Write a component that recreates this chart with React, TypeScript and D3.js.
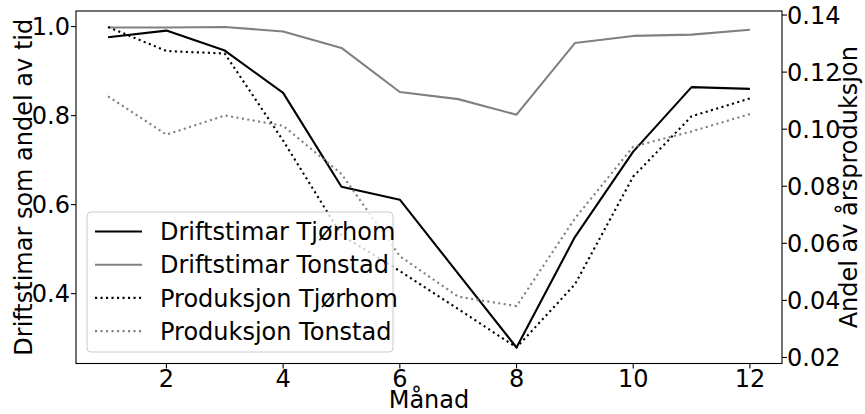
import React from "react";
import * as d3 from "d3";

const W = 865;
const H = 414;
const MARGIN = { top: 11, right: 83, bottom: 50.5, left: 76 };
const FONT = "'DejaVu Sans', 'Liberation Sans', sans-serif";
const FS = 24;

const months = [1, 2, 3, 4, 5, 6, 7, 8, 9, 10, 11, 12];
// share of time in operation (left axis)
const driftTjorhom = [0.976, 0.991, 0.946, 0.851, 0.64, 0.611, 0.445, 0.279, 0.527, 0.719, 0.864, 0.86];
const driftTonstad = [0.998, 0.998, 0.999, 0.989, 0.952, 0.853, 0.837, 0.802, 0.963, 0.979, 0.982, 0.993];
// share of yearly production (right axis)
const prodTjorhom = [0.1358, 0.1274, 0.1265, 0.096, 0.0629, 0.0503, 0.037, 0.0235, 0.0456, 0.0834, 0.1045, 0.1108];
const prodTonstad = [0.1115, 0.0981, 0.1048, 0.1012, 0.0843, 0.0555, 0.0413, 0.038, 0.0687, 0.0939, 0.0992, 0.1053];

const xTicks = [2, 4, 6, 8, 10, 12];
const leftTicks = [0.4, 0.6, 0.8, 1.0];
const rightTicks = [0.02, 0.04, 0.06, 0.08, 0.1, 0.12, 0.14];

const legendLabels = ["Driftstimar Tjørhom", "Driftstimar Tonstad", "Produksjon Tjørhom", "Produksjon Tonstad"];

// matplotlib style 5% padding
const padded = (vals: number[]) => {
  const [lo, hi] = d3.extent(vals) as [number, number];
  const m = (hi - lo) * 0.05;
  return [lo - m, hi + m];
};

export default function App() {
  const bw = W - MARGIN.left - MARGIN.right;
  const bh = H - MARGIN.top - MARGIN.bottom;

  const x = d3.scaleLinear().domain(padded(months)).range([0, bw]);
  const yL = d3.scaleLinear().domain(padded([...driftTjorhom, ...driftTonstad])).range([bh, 0]);
  const yR = d3.scaleLinear().domain(padded([...prodTjorhom, ...prodTonstad])).range([bh, 0]);

  const lineL = d3.line<number>().x((_, i) => x(months[i])).y((d) => yL(d));
  const lineR = d3.line<number>().x((_, i) => x(months[i])).y((d) => yR(d));

  const series = [
    { data: driftTjorhom, gen: lineL, color: "#000000", dash: undefined },
    { data: driftTonstad, gen: lineL, color: "#808080", dash: undefined },
    { data: prodTjorhom, gen: lineR, color: "#000000", dash: "2.1,3.4" },
    { data: prodTonstad, gen: lineR, color: "#808080", dash: "2.1,3.4" },
  ];

  const legend = { x: 11, y: 201, w: 306, h: 140, row: 33.2 };

  return (
    <svg width={W} height={H} style={{ position: "absolute", left: 0, top: 0 }} fontFamily={FONT}>
      <rect width={W} height={H} fill="#fff" />
      <g transform={`translate(${MARGIN.left},${MARGIN.top})`}>
        {series.map((s, i) => (
          <path
            key={i}
            d={s.gen(s.data) || ""}
            fill="none"
            stroke={s.color}
            strokeWidth={2.1}
            strokeDasharray={s.dash}
            strokeLinejoin="round"
          />
        ))}

        {/* spines */}
        <rect width={bw} height={bh} fill="none" stroke="#000" strokeWidth={1.1} />

        {/* x axis */}
        {xTicks.map((t) => (
          <g key={t} transform={`translate(${x(t)},${bh})`}>
            <line y2={5} stroke="#000" strokeWidth={1.1} />
            <text y={23} textAnchor="middle" fontSize={FS}>{t}</text>
          </g>
        ))}
        <text x={bw / 2} y={bh + 44.5} textAnchor="middle" fontSize={FS}>Månad</text>

        {/* left axis */}
        {leftTicks.map((t) => (
          <g key={t} transform={`translate(0,${yL(t)})`}>
            <line x2={-5} stroke="#000" strokeWidth={1.1} />
            <text x={-6} dy="0.36em" textAnchor="end" fontSize={FS}>{d3.format(".1f")(t)}</text>
          </g>
        ))}
        <text transform={`translate(${31.5 - MARGIN.left},${bh / 2}) rotate(-90)`} textAnchor="middle" fontSize={FS}>
          Driftstimar som andel av tid
        </text>

        {/* right axis */}
        {rightTicks.map((t) => (
          <g key={t} transform={`translate(${bw},${yR(t)})`}>
            <line x2={5} stroke="#000" strokeWidth={1.1} />
            <text x={5} dy="0.36em" textAnchor="start" fontSize={FS}>{d3.format(".2f")(t)}</text>
          </g>
        ))}
        <text transform={`translate(${bw + 75},${bh / 2}) rotate(-90)`} textAnchor="middle" fontSize={FS}>
          Andel av årsproduksjon
        </text>

        {/* legend */}
        <g transform={`translate(${legend.x},${legend.y})`}>
          <rect width={legend.w} height={legend.h} rx={4} fill="#fff" fillOpacity={0.8} stroke="#cccccc" strokeWidth={1} />
          {series.map((s, i) => {
            const cy = 19.5 + i * legend.row;
            return (
              <g key={i}>
                <line x1={8} x2={55} y1={cy} y2={cy} stroke={s.color} strokeWidth={2.1} strokeDasharray={s.dash} />
                <text x={73} y={cy} dy="0.36em" fontSize={FS}>{legendLabels[i]}</text>
              </g>
            );
          })}
        </g>
      </g>
    </svg>
  );
}
